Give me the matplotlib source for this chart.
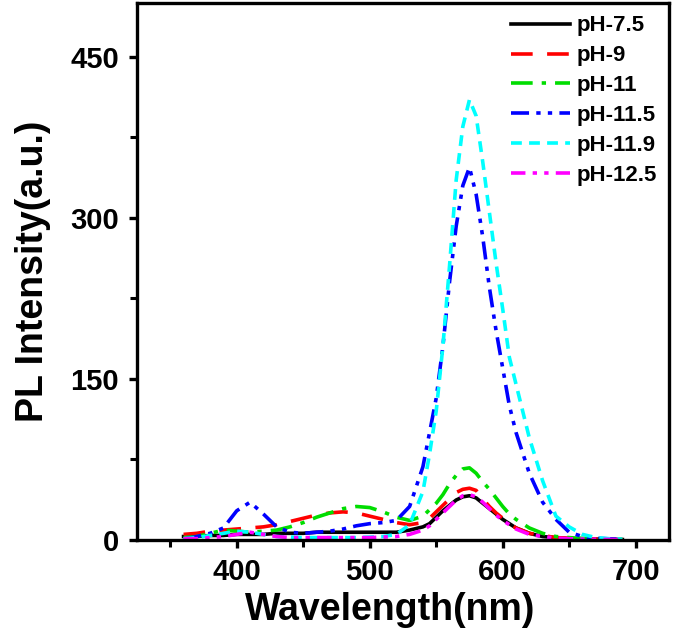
import matplotlib
matplotlib.use("Agg")
import matplotlib.pyplot as plt
from matplotlib.ticker import MultipleLocator

plt.rcParams['font.family'] = ['Liberation Sans', 'DejaVu Sans']
plt.rcParams['font.weight'] = 'bold'

# wavelength grid (nm), finer around the emission peak
wavelength = [360, 370, 380, 390, 400, 410, 420, 430, 440, 450, 460, 470, 480,
              490, 500, 510, 520, 530, 540, 545, 550, 555, 560, 565, 570, 575,
              580, 585, 590, 595, 600, 605, 610, 620, 630, 640, 650, 660, 670,
              680, 690]

ph_7_5 = [3, 3, 4, 4, 5, 5, 5, 6, 6, 6, 7, 7, 7,
          7, 7, 7, 7, 9, 12, 15, 21, 27, 32, 37, 40, 41,
          39, 34, 29, 24, 19, 15, 11, 6, 3, 2, 1, 1, 0.5,
          0.3, 0.2]
ph_9 = [5, 6, 8, 9, 10, 11, 12, 14, 17, 20, 23, 25, 26,
        25, 22, 19, 16, 14, 16, 20, 26, 32, 38, 44, 47, 48,
        46, 38, 31, 25, 20, 15, 11, 6, 4, 2, 1.5, 1, 0.6,
        0.4, 0.3]
ph_11 = [2, 3, 6, 9, 8, 7, 8, 9, 12, 16, 21, 25, 29,
         31, 30, 26, 21, 18, 22, 28, 34, 42, 52, 60, 66, 67,
         62, 54, 47, 39, 31, 24, 19, 11, 6, 3, 2, 1.2, 0.8,
         0.5, 0.3]
ph_11_5 = [0.5, 3, 6, 11, 27, 35, 24, 12, 7, 6, 7, 8, 10,
           13, 15, 16, 18, 31, 68, 100, 132, 180, 240, 292, 330, 347,
           322, 282, 235, 195, 160, 125, 100, 62, 35, 19, 7, 3, 1.5,
           0.8, 0.5]
ph_11_9 = [1, 2, 4, 6, 8, 7, 5, 3, 2.5, 2, 2, 2, 2,
           2, 2.5, 3, 5, 14, 45, 80, 120, 180, 255, 335, 385, 410,
           395, 352, 305, 258, 215, 170, 145, 95, 55, 22, 12, 5, 2,
           1, 0.5]
ph_12_5 = [1, 1, 2, 3, 5, 7, 5, 3, 2, 2, 2, 2, 2,
           2, 2, 2.5, 3, 5, 9, 13, 19, 25, 31, 37, 41, 42,
           40, 35, 29, 23, 18, 14, 10, 5, 3, 1.5, 1, 0.6, 0.4,
           0.3, 0.2]

labels = ['pH-7.5', 'pH-9', 'pH-11', 'pH-11.5', 'pH-11.9', 'pH-12.5']
series = [ph_7_5, ph_9, ph_11, ph_11_5, ph_11_9, ph_12_5]
colors = ['black', 'red', '#00dd00', 'blue', 'cyan', 'magenta']
styles = ['-', (0, (6, 4)), (0, (6, 2.5, 1.2, 2.5)), (0, (5, 2, 1.2, 2, 1.2, 2)),
          (0, (3, 2)), (0, (4, 2, 1.2, 2, 1.2, 2))]

fig = plt.figure(figsize=(6.75, 6.35), dpi=100)
ax = fig.add_axes([0.203, 0.150, 0.788, 0.845])

for y, lab, c, ls in zip(series, labels, colors, styles):
    ax.plot(wavelength, y, color=c, linestyle=ls, linewidth=2.6, label=lab)

ax.set_xlim(325, 725)
ax.set_ylim(0, 500)
ax.xaxis.set_major_locator(MultipleLocator(100))
ax.xaxis.set_minor_locator(MultipleLocator(50))
ax.yaxis.set_major_locator(MultipleLocator(150))
ax.yaxis.set_minor_locator(MultipleLocator(75))

for sp in ax.spines.values():
    sp.set_linewidth(2.4)
ax.tick_params(which='major', direction='out', length=6, width=2.4,
               labelsize=21, pad=7)
ax.tick_params(which='minor', direction='out', length=5, width=2.2)
for t in ax.get_xticklabels() + ax.get_yticklabels():
    t.set_fontweight('bold')

ax.set_xlabel('Wavelength(nm)', fontsize=27, fontweight='bold')
ax.xaxis.set_label_coords(0.475, -0.097)
ax.xaxis.label.set_va('top')
ax.set_ylabel('PL Intensity(a.u.)', fontsize=27, fontweight='bold', labelpad=14)

leg = ax.legend(loc='upper right', frameon=False, fontsize=16, handlelength=2.65,
                handletextpad=0.27, labelspacing=0.4, borderaxespad=0.15)
for t in leg.get_texts():
    t.set_fontweight('bold')

fig.savefig('out.png', dpi=100)
